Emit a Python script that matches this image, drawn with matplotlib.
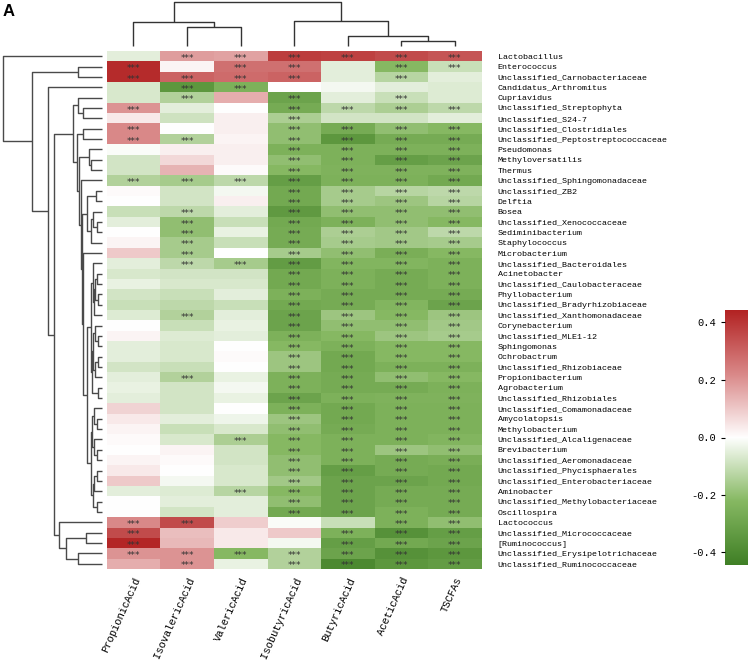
import matplotlib
matplotlib.use("Agg")
import matplotlib.pyplot as plt
import numpy as np
from matplotlib.colors import LinearSegmentedColormap, TwoSlopeNorm

plt.rcParams['axes.unicode_minus'] = False

# column (acid) names, in clustered order
acids = ["PropionicAcid", "IsovalericAcid", "ValericAcid", "IsobutyricAcid",
         "ButyricAcid", "AceticAcid", "TSCFAs"]

# genus names, in clustered order
genera = [
    "Lactobacillus", "Enterococcus", "Unclassified_Carnobacteriaceae",
    "Candidatus_Arthromitus", "Cupriavidus", "Unclassified_Streptophyta",
    "Unclassified_S24-7", "Unclassified_Clostridiales",
    "Unclassified_Peptostreptococcaceae", "Pseudomonas", "Methyloversatilis",
    "Thermus", "Unclassified_Sphingomonadaceae", "Unclassified_ZB2", "Delftia",
    "Bosea", "Unclassified_Xenococcaceae", "Sediminibacterium", "Staphylococcus",
    "Microbacterium", "Unclassified_Bacteroidales", "Acinetobacter",
    "Unclassified_Caulobacteraceae", "Phyllobacterium",
    "Unclassified_Bradyrhizobiaceae", "Unclassified_Xanthomonadaceae",
    "Corynebacterium", "Unclassified_MLE1-12", "Sphingomonas", "Ochrobactrum",
    "Unclassified_Rhizobiaceae", "Propionibacterium", "Agrobacterium",
    "Unclassified_Rhizobiales", "Unclassified_Comamonadaceae", "Amycolatopsis",
    "Methylobacterium", "Unclassified_Alcaligenaceae", "Brevibacterium",
    "Unclassified_Aeromonadaceae", "Unclassified_Phycisphaerales",
    "Unclassified_Enterobacteriaceae", "Aminobacter",
    "Unclassified_Methylobacteriaceae", "Oscillospira", "Lactococcus",
    "Unclassified_Micrococcaceae", "[Ruminococcus]",
    "Unclassified_Erysipelotrichaceae", "Unclassified_Ruminococcaceae",
]

# correlation coefficients (rows = genera, cols = acids)
corr = [
    [-0.05, 0.18, 0.17, 0.38, 0.37, 0.35, 0.33],
    [0.42, 0.02, 0.27, 0.27, -0.05, -0.22, -0.10],
    [0.42, 0.30, 0.28, 0.30, -0.05, -0.13, -0.05],
    [-0.07, -0.35, -0.25, 0.00, -0.02, -0.05, -0.06],
    [-0.07, -0.14, 0.15, -0.30, -0.05, -0.10, -0.06],
    [0.20, -0.05, 0.00, -0.27, -0.12, -0.15, -0.12],
    [0.04, -0.09, 0.03, -0.15, -0.08, -0.08, -0.05],
    [0.22, 0.00, 0.03, -0.20, -0.27, -0.20, -0.22],
    [0.22, -0.14, 0.02, -0.20, -0.35, -0.27, -0.27],
    [-0.01, 0.03, 0.03, -0.25, -0.25, -0.25, -0.25],
    [-0.08, 0.07, 0.03, -0.20, -0.25, -0.32, -0.30],
    [-0.08, 0.14, 0.01, -0.22, -0.24, -0.24, -0.24],
    [-0.14, -0.16, -0.12, -0.32, -0.25, -0.25, -0.28],
    [0.01, -0.08, -0.02, -0.28, -0.16, -0.13, -0.12],
    [0.00, -0.08, 0.03, -0.28, -0.16, -0.18, -0.13],
    [-0.10, -0.12, -0.05, -0.34, -0.20, -0.20, -0.20],
    [-0.05, -0.20, -0.10, -0.28, -0.25, -0.20, -0.22],
    [0.00, -0.20, -0.04, -0.27, -0.15, -0.17, -0.12],
    [0.02, -0.16, -0.10, -0.27, -0.16, -0.17, -0.16],
    [0.10, -0.16, 0.00, -0.16, -0.20, -0.26, -0.22],
    [-0.05, -0.12, -0.16, -0.33, -0.23, -0.23, -0.25],
    [-0.07, -0.08, -0.08, -0.28, -0.25, -0.27, -0.25],
    [-0.04, -0.07, -0.07, -0.28, -0.25, -0.27, -0.25],
    [-0.08, -0.10, -0.05, -0.25, -0.27, -0.27, -0.27],
    [-0.10, -0.12, -0.10, -0.28, -0.27, -0.23, -0.30],
    [-0.06, -0.14, -0.05, -0.30, -0.18, -0.22, -0.18],
    [0.00, -0.10, -0.04, -0.30, -0.20, -0.20, -0.17],
    [0.02, -0.06, -0.05, -0.25, -0.22, -0.18, -0.16],
    [-0.05, -0.07, 0.00, -0.22, -0.25, -0.22, -0.22],
    [-0.05, -0.07, 0.01, -0.18, -0.28, -0.22, -0.22],
    [-0.08, -0.10, 0.00, -0.18, -0.28, -0.25, -0.25],
    [-0.05, -0.14, -0.04, -0.25, -0.27, -0.20, -0.22],
    [-0.04, -0.08, -0.02, -0.25, -0.27, -0.27, -0.25],
    [-0.05, -0.08, -0.04, -0.30, -0.25, -0.24, -0.24],
    [0.08, -0.08, 0.00, -0.25, -0.28, -0.25, -0.25],
    [0.04, -0.05, -0.03, -0.18, -0.28, -0.25, -0.25],
    [0.02, -0.10, -0.07, -0.20, -0.27, -0.25, -0.25],
    [0.01, -0.07, -0.15, -0.22, -0.25, -0.25, -0.23],
    [0.00, 0.02, -0.08, -0.22, -0.25, -0.18, -0.20],
    [0.02, 0.01, -0.08, -0.20, -0.25, -0.27, -0.26],
    [0.04, 0.00, -0.07, -0.20, -0.32, -0.27, -0.28],
    [0.10, -0.02, -0.07, -0.17, -0.30, -0.30, -0.28],
    [-0.05, -0.06, -0.13, -0.22, -0.30, -0.27, -0.27],
    [0.00, -0.05, -0.05, -0.20, -0.30, -0.27, -0.27],
    [0.00, -0.08, -0.05, -0.28, -0.30, -0.25, -0.27],
    [0.22, 0.35, 0.09, -0.01, -0.10, -0.25, -0.20],
    [0.35, 0.12, 0.04, 0.10, -0.25, -0.37, -0.32],
    [0.43, 0.13, 0.04, -0.02, -0.32, -0.28, -0.30],
    [0.20, 0.20, -0.22, -0.14, -0.30, -0.37, -0.35],
    [0.15, 0.20, -0.04, -0.14, -0.40, -0.35, -0.33],
]

# significance (1 = ***), same layout as corr
signif = [
    "0111111", "1011011", "1111010", "0110000", "0101010", "1001111",
    "0001000", "1001111", "1101111", "0001111", "0001111", "0001111",
    "1111111", "0001111", "0001111", "0101111", "0101111", "0101111",
    "0101111", "0101111", "0111111", "0001111", "0001111", "0001111",
    "0001111", "0101111", "0001111", "0001111", "0001111", "0001111",
    "0001111", "0101111", "0001111", "0001111", "0001111", "0001111",
    "0001111", "0011111", "0001111", "0001111", "0001111", "0001111",
    "0011111", "0001111", "0001111", "1100011", "1000111", "1000111",
    "1111111", "0101111",
]

# column dendrogram: (left, right, merge height), leaves are column indices
col_tree = ((0, (1, 2, 19.3), 24.3), (3, (4, (5, 6, 5.3), 10.0), 25.3), 43.7)

# row dendrogram, built from sub-clusters
r_12 = (1, 2, 23.4)
r_46 = (4, (5, 6, 18.4), 23.4)
r_78 = (7, 8, 18.4)
r_911 = (9, (10, 11, 10.7), 12.4)
r_m1 = ((13, 14, 6.0), ((15, (16, 17, 5.0), 9.0), 18, 11.0), 14.4)
r_ga = (20, (((21, 22, 5.0), (23, 24, 4.0), 7.0), 25, 8.0), 9.0)
r_gb = ((26, (27, 28, 4.0), 7.0), ((29, 30, 4.0), 31, 7.0), 9.0)
r_g = (r_ga, (r_gb, (32, 33, 4.0), 10.0), 11.0)
r_h = (((34, (35, 36, 5.0), 8.0), (37, (38, 39, 5.0), 8.0), 10.0),
       (((40, 41, 5.0), 42, 8.0), (43, 44, 5.0), 9.0), 11.0)
r_e = (19, (r_g, r_h, 14.4), 18.4)
r_b = (r_911, (12, (r_m1, r_e, 19.5), 20.7), 23.0)
r_c = (r_46, (r_78, r_b, 25.0), 29.0)
r_bot = (45, ((46, 47, 16.0), (48, 49, 24.0), 35.7), 42.4)
row_tree = (0, (r_12, (3, (r_c, r_bot, 47.4), 53.4), 70.0), 99.0)


def draw_tree(ax, node, vertical, color):
    # returns (leaf-axis position, height) of node
    if isinstance(node, int):
        return float(node), 0.0
    left, right, h = node
    pl, hl = draw_tree(ax, left, vertical, color)
    pr, hr = draw_tree(ax, right, vertical, color)
    a = [pl, pl, pr, pr]
    b = [hl, h, h, hr]
    if vertical:
        ax.plot(a, b, color=color, lw=1.0, clip_on=False, solid_capstyle="butt")
    else:
        ax.plot(b, a, color=color, lw=1.0, clip_on=False, solid_capstyle="butt")
    return (pl + pr) / 2, h


W, H = 748, 663
fig = plt.figure(figsize=(W / 100, H / 100), dpi=100)


def px_axes(x0, y0, x1, y1):
    return fig.add_axes([x0 / W, 1 - y1 / H, (x1 - x0) / W, (y1 - y0) / H])


mono = "Liberation Mono"
data = np.array(corr)
nr, nc = data.shape

cmap = LinearSegmentedColormap.from_list(
    "gwr", ["#3f7f25", "#86b862", "#ffffff", "#d98888", "#b22222"])
norm = TwoSlopeNorm(vmin=-0.445, vcenter=0.0, vmax=0.442)

# heatmap
ax = px_axes(106.7, 51, 481.7, 569)
im = ax.imshow(data, cmap=cmap, norm=norm, aspect="auto",
               extent=(-0.5, nc - 0.5, nr - 0.5, -0.5), interpolation="nearest")
for i in range(nr):
    for j in range(nc):
        if signif[i][j] == "1":
            ax.text(j, i + 0.45, "***", ha="center", va="baseline",
                    fontsize=6.3, family="DejaVu Sans", color="#333333")
ax.set_xticks(range(nc))
ax.set_xticklabels(acids, rotation=66, ha="right", rotation_mode="anchor",
                   family=mono, fontsize=7.6)
ax.set_yticks(range(nr))
ax.set_yticklabels(genera, family=mono, fontsize=6.0)
ax.yaxis.tick_right()
ax.tick_params(axis="both", length=0)
ax.tick_params(axis="y", pad=11.5)
ax.tick_params(axis="x", pad=5)
for s in ax.spines.values():
    s.set_visible(False)

# column dendrogram
axc = px_axes(106.7, 2.3, 481.7, 46)
draw_tree(axc, col_tree, True, "#333333")
axc.set_xlim(-0.5, nc - 0.5)
axc.set_ylim(0, 43.7)
axc.axis("off")

# row dendrogram
axr = px_axes(2.7, 51, 101.7, 569)
draw_tree(axr, row_tree, False, "#4a4a4a")
axr.set_ylim(nr - 0.5, -0.5)
axr.set_xlim(99.0, 0)
axr.axis("off")

# colour bar
cax = px_axes(725, 310, 748, 565)
cb = fig.colorbar(im, cax=cax, ticks=[-0.4, -0.2, 0.0, 0.2, 0.4])
cb.outline.set_visible(False)
cax.yaxis.set_ticks_position("left")
cax.set_yticklabels(["-0.4", "-0.2", "0.0", "0.2", "0.4"], family=mono, fontsize=7.5)
cax.tick_params(length=3, width=0.8)

fig.text(3 / W, 1 - 16 / H, "A", fontsize=12, fontweight="bold",
         family="Liberation Sans")

fig.savefig("out.png", dpi=100)
